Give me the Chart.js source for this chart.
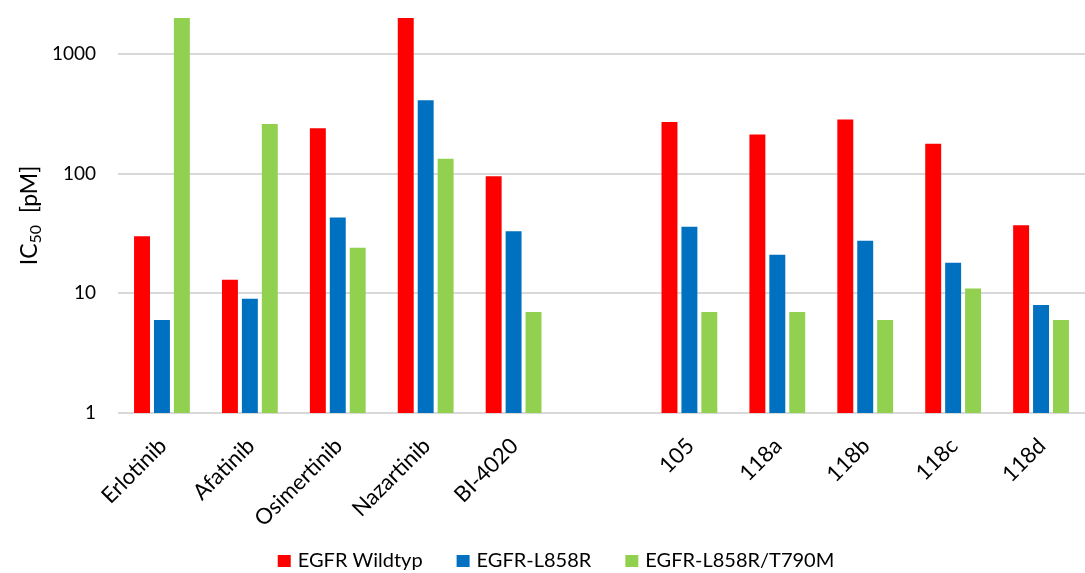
<!DOCTYPE html>
<html>
<head>
<meta charset="utf-8">
<script src="https://cdn.jsdelivr.net/npm/chart.js@4/dist/chart.umd.min.js"></script>
<style>
  html, body { margin: 0; padding: 0; background: #fff; }
  #wrap { width: 1085px; height: 573px; position: relative; }
</style>
</head>
<body>
<div id="wrap"><canvas id="c"></canvas></div>
<script>
// Compounds (an empty slot separates the reference inhibitors from the series 105/118)
const categories = ['Erlotinib', 'Afatinib', 'Osimertinib', 'Nazartinib', 'BI-4020', '', '105', '118a', '118b', '118c', '118d'];

// IC50 values in pM per EGFR variant
const wildtyp   = [30, 13, 240, 3000, 95, null, 270, 213, 283, 178, 37];
const l858r     = [6, 9, 43, 410, 33, null, 36, 21, 27.5, 18, 8];
const l858rT790 = [3000, 260, 24, 133, 7, null, 7, 7, 6, 11, 6];

const seriesNames = ['EGFR Wildtyp', 'EGFR-L858R', 'EGFR-L858R/T790M'];
const seriesColors = ['#ff0000', '#0070c0', '#92d050'];

const yTicks = [1, 10, 100, 1000];
const yMin = 1, yMax = 2000;

const FONT = 'Lato, "Open Sans", sans-serif';

// Rotated axis title with a subscript "50"
const yTitlePlugin = {
  id: 'yTitle',
  afterDraw(chart) {
    const { ctx, chartArea } = chart;
    const cy = (chartArea.top + chartArea.bottom) / 2;
    ctx.save();
    ctx.translate(29, cy);
    ctx.rotate(-Math.PI / 2);
    ctx.fillStyle = '#000';
    ctx.textBaseline = 'alphabetic';
    const big = '23px ' + FONT, small = '16px ' + FONT;
    ctx.font = big;  const w1 = ctx.measureText('IC').width;
    ctx.font = small; const w2 = ctx.measureText('50').width;
    ctx.font = big;  const w3 = ctx.measureText('  [pM]').width;
    let x = -(w1 + w2 + w3) / 2;
    const base = 8;
    ctx.font = big;  ctx.fillText('IC', x, base); x += w1;
    ctx.font = small; ctx.fillText('50', x, base + 4); x += w2;
    ctx.font = big;  ctx.fillText('  [pM]', x, base);
    ctx.restore();
  }
};

// Legend row along the bottom edge, built from the datasets
const legendRowPlugin = {
  id: 'legendRow',
  afterDraw(chart) {
    const { ctx } = chart;
    const font = '20px ' + FONT;
    const box = 13, boxH = 12, gapText = 7, gapItem = 34;
    ctx.save();
    ctx.font = font;
    const items = chart.data.datasets.map(ds => ({
      text: ds.label, color: ds.backgroundColor, w: ctx.measureText(ds.label).width
    }));
    const total = items.reduce((s, it) => s + box + gapText + it.w, 0) + gapItem * (items.length - 1);
    let x = 556 - total / 2;
    const cy = 561;
    ctx.textBaseline = 'middle';
    ctx.textAlign = 'left';
    items.forEach(it => {
      ctx.fillStyle = it.color;
      ctx.fillRect(x, cy - boxH / 2, box, boxH);
      x += box + gapText;
      ctx.fillStyle = '#000';
      ctx.fillText(it.text, x, cy);
      x += it.w + gapItem;
    });
    ctx.restore();
  }
};

const common = { barPercentage: 0.8, categoryPercentage: 0.68, borderWidth: 0, grouped: true };

new Chart(document.getElementById('c'), {
  type: 'bar',
  data: {
    labels: categories,
    datasets: [
      Object.assign({ label: seriesNames[0], data: wildtyp, backgroundColor: seriesColors[0] }, common),
      Object.assign({ label: seriesNames[1], data: l858r, backgroundColor: seriesColors[1] }, common),
      Object.assign({ label: seriesNames[2], data: l858rT790, backgroundColor: seriesColors[2] }, common)
    ]
  },
  options: {
    responsive: true,
    maintainAspectRatio: false,
    animation: false,
    layout: { padding: { top: 18, right: 0, left: 0, bottom: 0 } },
    scales: {
      x: {
        grid: { display: false },
        border: { display: false },
        afterFit(axis) { axis.height = 160; },
        ticks: {
          color: '#000',
          font: { family: FONT, size: 22 },
          minRotation: 45, maxRotation: 45,
          autoSkip: false,
          padding: 12,
          labelOffset: 1
        }
      },
      y: {
        type: 'logarithmic',
        min: yMin, max: yMax,
        afterBuildTicks(axis) { axis.ticks = yTicks.map(v => ({ value: v })); },
        afterFit(axis) {
          axis.width = 118;
          axis.paddingTop = 0;
          axis.paddingBottom = 0;
        },
        grid: { color: '#d9d9d9', lineWidth: 2, drawTicks: false },
        border: { display: false },
        ticks: {
          color: '#000',
          font: { family: FONT, size: 19 },
          padding: 22,
          callback: v => String(v)
        }
      }
    },
    plugins: {
      legend: { display: false },
      tooltip: { enabled: false }
    }
  },
  plugins: [yTitlePlugin, legendRowPlugin]
});
</script>
</body>
</html>
